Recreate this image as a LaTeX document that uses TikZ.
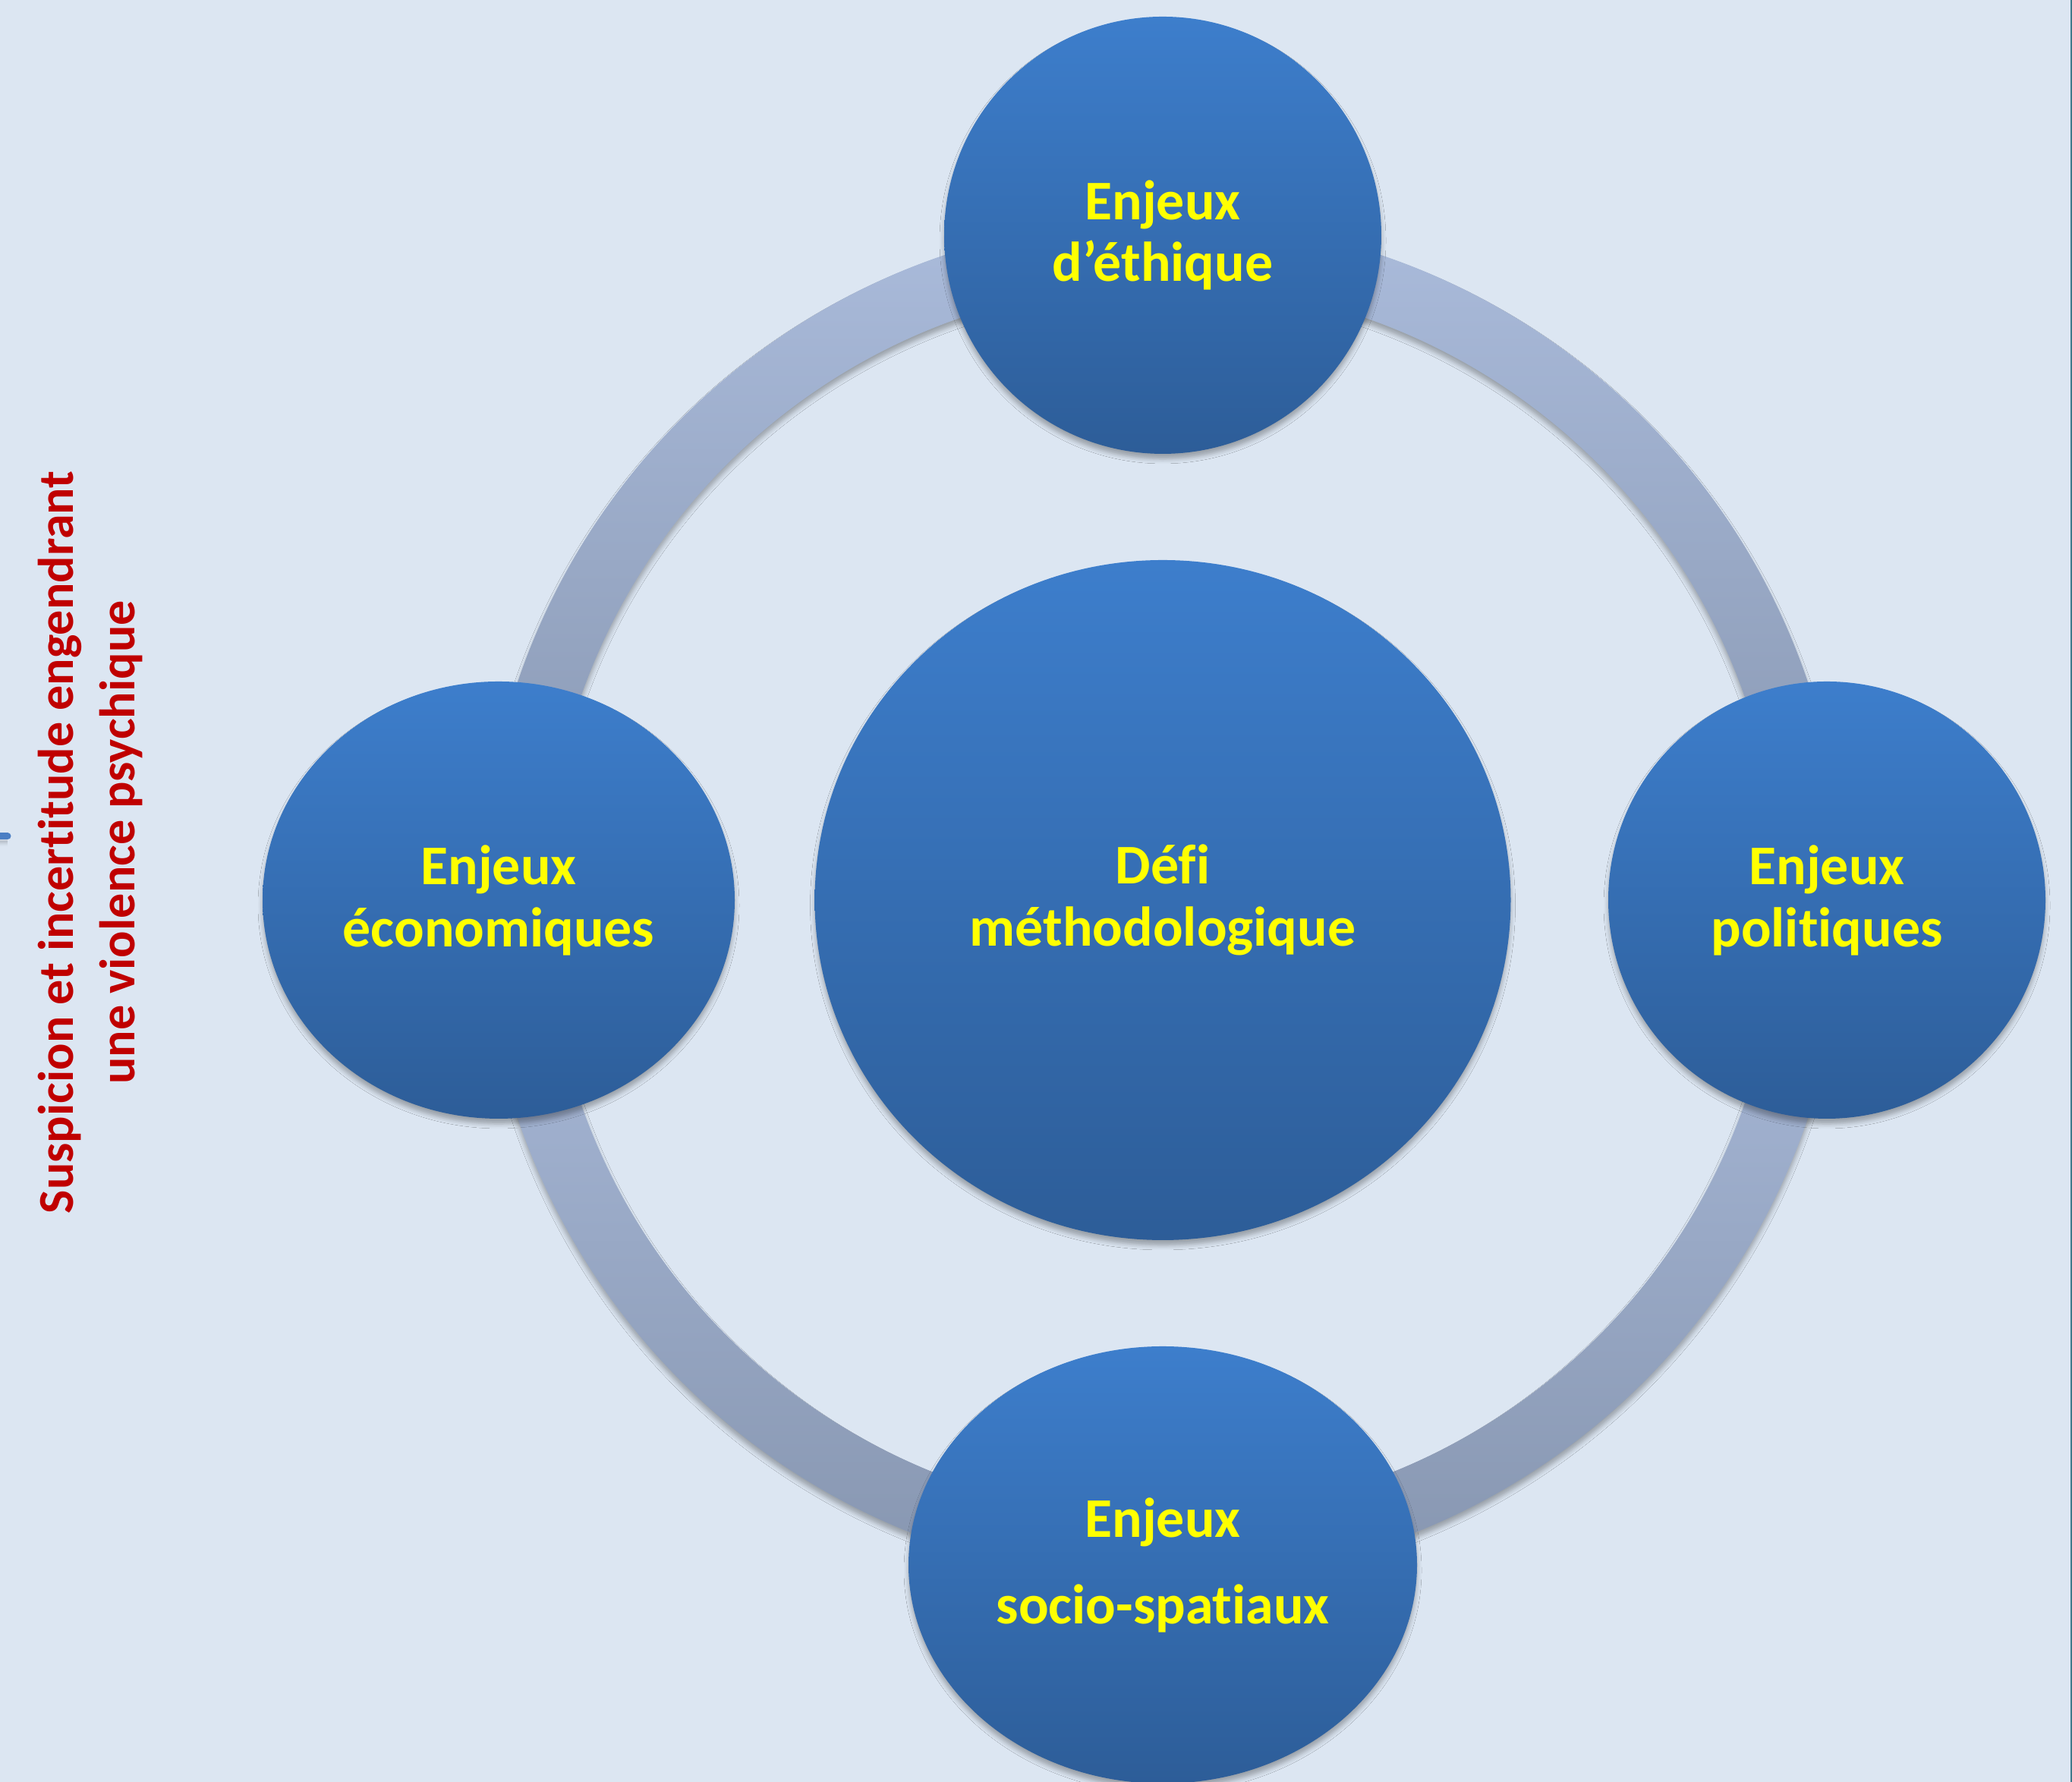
\documentclass[tikz,border=0pt]{standalone}
\usepackage{fontspec}
\setmainfont{Carlito}[Ligatures=NoCommon]
\usepackage{tikz}
\usetikzlibrary{shapes.geometric,shadows.blur}

\definecolor{fond}{HTML}{DCE6F2}
\definecolor{bleuhaut}{HTML}{3D7ECC}
\definecolor{bleubas}{HTML}{2D5D98}
\definecolor{anneauhaut}{HTML}{AABBDB}
\definecolor{anneaubas}{HTML}{8796B0}
\definecolor{rougetexte}{HTML}{C00000}
\definecolor{jaune}{HTML}{FFFF00}
\definecolor{bordure}{HTML}{3F7A8C}
\definecolor{trait}{HTML}{4A7EC4}

\tikzset{
  ombre/.style={blur shadow={shadow xshift=0pt, shadow yshift=-0.07cm, shadow blur radius=0.06cm, shadow opacity=30}},
  enjeu/.style={ellipse, inner sep=0pt, top color=bleuhaut, bottom color=bleubas, text=jaune, align=center,
    font=\fontsize{21}{23.3}\selectfont\bfseries, ombre},
  anneau/.style={top color=anneauhaut, bottom color=anneaubas, ombre},
}

\begin{document}
\begin{tikzpicture}

	\fill[fond] (0,0) rectangle (27.30,23.48);
	\useasboundingbox (0,0) rectangle (27.30,23.48);
	\draw[bordure, line width=0.02cm] (27.29,0) -- (27.29,23.48);

%	anneau en quatre arcs
	\begin{scope}[shift={(15.32,11.62)}]
	\foreach \a in {0,90,180,270}
		\shade[anneau] (\a:8.97) arc[start angle=\a, delta angle=90, radius=8.97] -- (\a+90:8.12) arc[start angle=\a+90, delta angle=-90, radius=8.12] -- cycle;
	\end{scope}

	\node[enjeu, minimum width=9.17cm, minimum height=8.96cm] (defi) at (15.32,11.62) {D\'efi\\m\'ethodologique};
	\node[enjeu, minimum width=5.76cm, minimum height=5.76cm] (ethique) at (15.32,20.38) {Enjeux\\d’éthique};
	\node[enjeu, minimum width=6.22cm, minimum height=5.76cm] (eco) at (6.57,11.62) {Enjeux\\économiques};
	\node[enjeu, minimum width=5.76cm, minimum height=5.76cm] (politique) at (24.07,11.62) {Enjeux\\politiques};
	\node[enjeu, minimum width=6.70cm, minimum height=5.76cm] (socio) at (15.32,2.86) {Enjeux\\[0.32cm]socio-spatiaux};

	\node[rotate=90, text=rougetexte, align=center, font=\fontsize{18.8}{23.3}\selectfont\bfseries] (suspicion) at (1.19,12.38) {Suspicion et incertitude engendrant\\une violence psychique};
	\draw[trait, line width=0.09cm, line cap=round, ombre] (-0.1,12.46) -- (0.1,12.46);

\end{tikzpicture}
\end{document}
